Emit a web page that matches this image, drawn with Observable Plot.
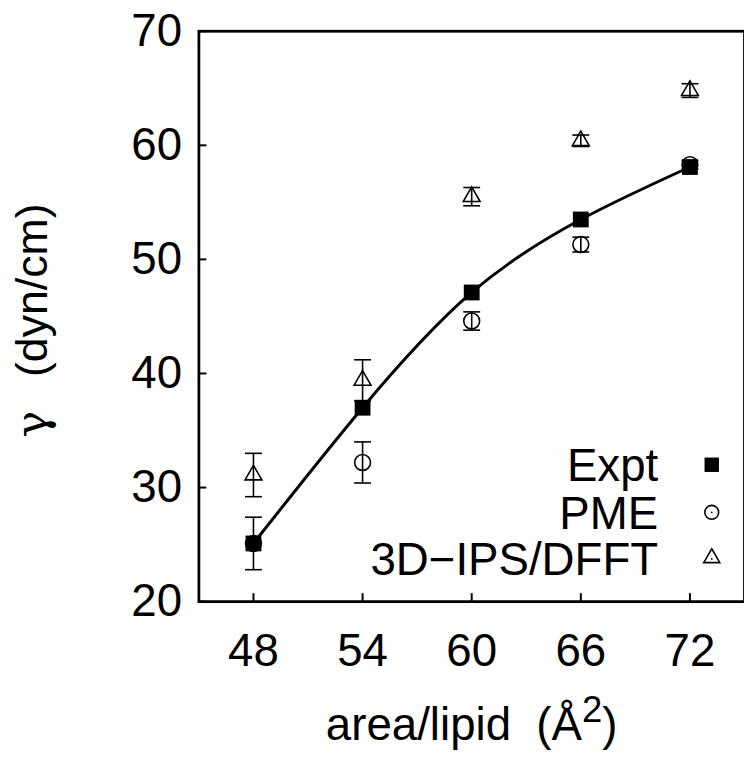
<!DOCTYPE html>
<html>
<head>
<meta charset="utf-8">
<script src="https://cdn.jsdelivr.net/npm/d3@7"></script>
<script src="https://cdn.jsdelivr.net/npm/@observablehq/plot@0.6"></script>
<style>
html, body { margin: 0; padding: 0; overflow: hidden; background: white; }
</style>
</head>
<body>
<div id="chart"></div>
<script>
const xTicks = [48, 54, 60, 66, 72];
const yTicks = [20, 30, 40, 50, 60, 70];
const area = [48, 54, 60, 66, 72];
const expt = [25.1, 37.0, 47.1, 53.5, 58.1];
const pme = [25.1, 32.2, 44.6, 51.3, 58.3];
const pmeErr = [2.3, 1.8, 0.8, 0.65, 0.35];
const ips = [31.1, 39.4, 55.5, 60.4, 64.8];
const ipsErr = [1.9, 1.8, 0.8, 0.5, 0.6];
const seriesNames = ["Expt", "PME", "3D\u2212IPS/DFFT"];

const exptData = area.map((x, i) => ({x, y: expt[i]}));
const pmeData = area.map((x, i) => ({x, y: pme[i], lo: pme[i] - pmeErr[i], hi: pme[i] + pmeErr[i]}));
const ipsData = area.map((x, i) => ({x, y: ips[i], lo: ips[i] - ipsErr[i], hi: ips[i] + ipsErr[i]}));

const cap = {draw(ctx, size) { const w = Math.sqrt(size / Math.PI); ctx.moveTo(-w, 0); ctx.lineTo(w, 0); }};

function errMarks(data) {
  return [
    Plot.ruleX(data, {x: "x", y1: "lo", y2: "hi", stroke: "black", strokeWidth: 1.6}),
    Plot.dot(data, {x: "x", y: "lo", symbol: cap, r: 8.5, stroke: "black", strokeWidth: 1.6}),
    Plot.dot(data, {x: "x", y: "hi", symbol: cap, r: 8.5, stroke: "black", strokeWidth: 1.6})
  ];
}

const legendRows = [-138, -90, -44];
const legendSym = [
  {symbol: "square", r: 8.2, fill: "black", stroke: "none"},
  {symbol: "circle", r: 7, fill: "none", stroke: "black"},
  {symbol: "triangle", r: 6, fill: "none", stroke: "black"}
];
const legendMarks = [];
seriesNames.forEach((name, i) => {
  legendMarks.push(Plot.text([name], {frameAnchor: "bottom-right", dx: -87, dy: legendRows[i] + 2, textAnchor: "end", lineAnchor: "middle", fontSize: 46, fill: "black"}));
  legendMarks.push(Plot.dot([0], {frameAnchor: "bottom-right", dx: -33, dy: legendRows[i], ...legendSym[i], strokeWidth: 1.6}));
  if (i > 0) legendMarks.push(Plot.dot([0], {frameAnchor: "bottom-right", dx: -33, dy: legendRows[i] + (i === 2 ? 1 : 0), r: 0.9, fill: "black", stroke: "none"}));
});

const chart = Plot.plot({
  width: 750,
  height: 760,
  marginLeft: 200,
  marginRight: 0,
  marginTop: 31,
  marginBottom: 154,
  style: {fontFamily: "'Liberation Sans', Arial, sans-serif", fontSize: "46px", background: "white", color: "black"},
  x: {domain: [45, 75]},
  y: {domain: [20, 70]},
  marks: [
    Plot.frame({stroke: "black", strokeWidth: 2.8}),
    Plot.axisX(xTicks, {tickSize: -8, tickPadding: 40, strokeWidth: 2, fontSize: 46, label: null}),
    Plot.axisY(yTicks, {tickSize: -8, tickPadding: 25, strokeWidth: 2, fontSize: 46, label: null}),
    ...errMarks(pmeData),
    ...errMarks(ipsData),
    Plot.dot(pmeData, {x: "x", y: "y", symbol: "circle", r: 8, stroke: "black", fill: "none", strokeWidth: 1.6}),
    Plot.dot(ipsData, {x: "x", y: "y", symbol: "triangle", r: 6.3, stroke: "black", fill: "none", strokeWidth: 1.6}),
    Plot.line(exptData, {x: "x", y: "y", curve: "natural", stroke: "black", strokeWidth: 3}),
    Plot.dot(exptData, {x: "x", y: "y", symbol: "square", r: 9, fill: "black", stroke: "none"}),
    Plot.text(["\u03b3\u00a0\u00a0\u2009(dyn/cm)"], {frameAnchor: "left", rotate: -90, dx: -168, dy: 4, textAnchor: "middle", lineAnchor: "middle", fontSize: 45, fill: "black"}),
    Plot.text(["area/lipid\u00a0\u00a0(\u00c5\u00b2)"], {frameAnchor: "bottom", dy: 125, textAnchor: "middle", lineAnchor: "middle", fontSize: 46, fill: "black"}),
    ...legendMarks
  ]
});
document.getElementById("chart").appendChild(chart);

// real superscript for the squared unit; serif-style gamma for the y label
d3.select(chart).selectAll("text").each(function() {
  const t = this.textContent;
  const el = d3.select(this);
  if (t.startsWith("area/lipid")) {
    el.text("area/lipid\u00a0\u00a0(\u00c5");
    el.append("tspan").attr("dy", "-0.5em").attr("font-size", "0.8em").text("2");
    el.append("tspan").attr("dy", "0.4em").text(")");
  } else if (t.startsWith("\u03b3")) {
    el.text("");
    el.append("tspan").attr("font-family", "'DejaVu Serif', serif").text("\u03b3");
    el.append("tspan").text("\u00a0\u00a0\u2009(dyn/cm)");
  }
});
</script>
</body>
</html>
